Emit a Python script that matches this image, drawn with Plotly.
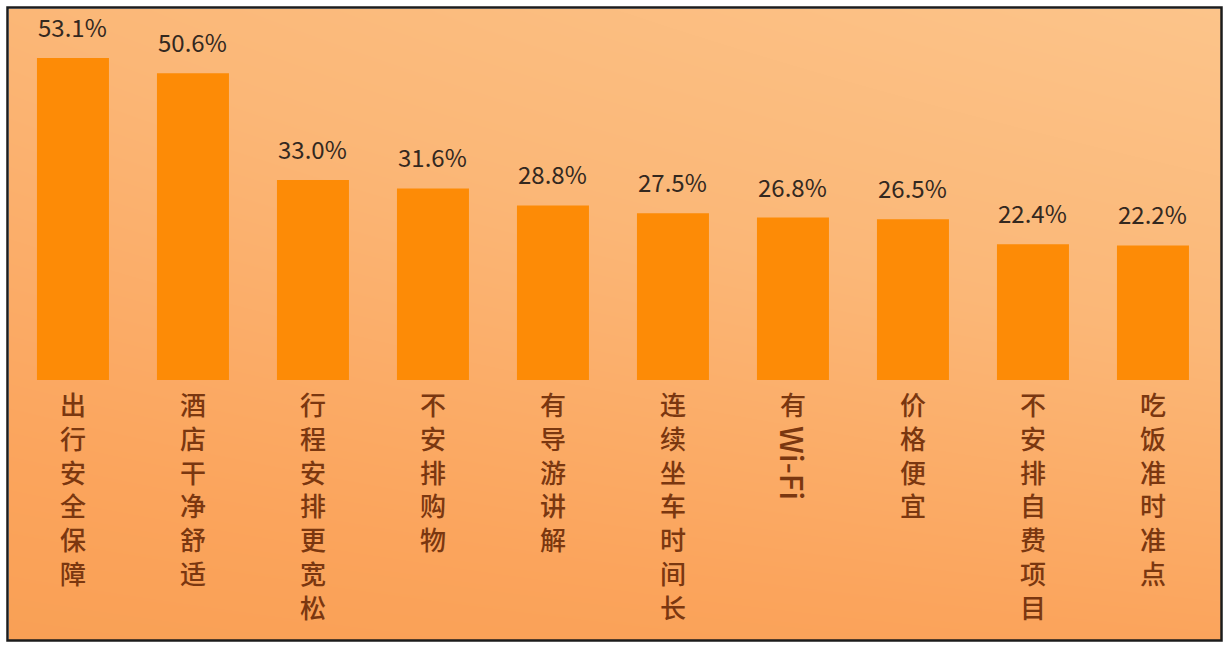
import plotly.graph_objects as go

categories = ["出行安全保障", "酒店干净舒适", "行程安排更宽松", "不安排购物", "有导游讲解",
              "连续坐车时间长", "有Wi-Fi", "价格便宜", "不安排自费项目", "吃饭准时准点"]
values = [53.1, 50.6, 33.0, 31.6, 28.8, 27.5, 26.8, 26.5, 22.4, 22.2]
value_labels = ["53.1%", "50.6%", "33.0%", "31.6%", "28.8%", "27.5%", "26.8%", "26.5%", "22.4%", "22.2%"]

W, H = 1227, 648
L, R, T, B = 9, 6, 9, 8
plot_w = W - L - R
plot_h = H - T - B

BAR = "#FD8B06"
VAL_COLOR = "#33281F"
CAT_COLOR = "#7A3710"
CJK = "Noto Sans CJK SC"

fig = go.Figure()

# background gradient (decorative)
fig.add_trace(go.Heatmap(
    z=[[0.0, 0.15], [0.55, 1.0]], x=[0, 1], y=[0, 1], zsmooth="best",
    colorscale=[[0.0, "#F9A055"], [0.15, "#FBA45C"], [0.55, "#FBB777"], [1.0, "#FCC48A"]],
    showscale=False, hoverinfo="skip", xaxis="x", yaxis="y"))

fig.add_trace(go.Bar(
    x=categories, y=values, width=0.6, marker=dict(color=BAR, line=dict(width=0)),
    xaxis="x2", yaxis="y2", hoverinfo="skip"))

annotations = []
for cat, v, lab in zip(categories, values, value_labels):
    annotations.append(dict(
        x=cat, y=v, xref="x2", yref="y2", text=lab, showarrow=False,
        yanchor="bottom", yshift=12, font=dict(family=CJK, size=24, color=VAL_COLOR)))
    cjk_part = "".join(ch for ch in cat if ord(ch) > 255)
    latin_part = "".join(ch for ch in cat if ord(ch) <= 255)
    annotations.append(dict(
        x=cat, y=0, xref="x2", yref="y2", text="<br>".join(cjk_part), showarrow=False,
        yanchor="top", yshift=-3, font=dict(family=CJK, size=26, color=CAT_COLOR, weight=500)))
    if latin_part:
        annotations.append(dict(
            x=cat, y=0, xref="x2", yref="y2", text=latin_part, showarrow=False, textangle=90,
            yanchor="top", yshift=-44, font=dict(family=CJK, size=31, color=CAT_COLOR, weight=500)))

# outer frame
bx0, bx1 = 7.5, 1221.5
by0, by1 = 7.5, 640.5
shapes = [dict(type="rect", xref="paper", yref="paper",
               x0=(bx0 - L) / plot_w, x1=(bx1 - L) / plot_w,
               y0=(H - B - by1) / plot_h, y1=(H - B - by0) / plot_h,
               line=dict(color="#1C1C1C", width=2.5), fillcolor="rgba(0,0,0,0)")]

fig.update_layout(
    width=W, height=H,
    margin=dict(l=L, r=R, t=T, b=B, pad=0),
    paper_bgcolor="white", plot_bgcolor="rgba(0,0,0,0)",
    showlegend=False,
    xaxis=dict(range=[0, 1], visible=False, fixedrange=True),
    yaxis=dict(range=[0, 1], visible=False, fixedrange=True),
    xaxis2=dict(overlaying="x", type="category", range=[-0.533, 9.567], visible=False, fixedrange=True),
    yaxis2=dict(overlaying="y", range=[-42.9, 61.2], visible=False, fixedrange=True),
    annotations=annotations, shapes=shapes,
)

fig.write_html("out.html")
